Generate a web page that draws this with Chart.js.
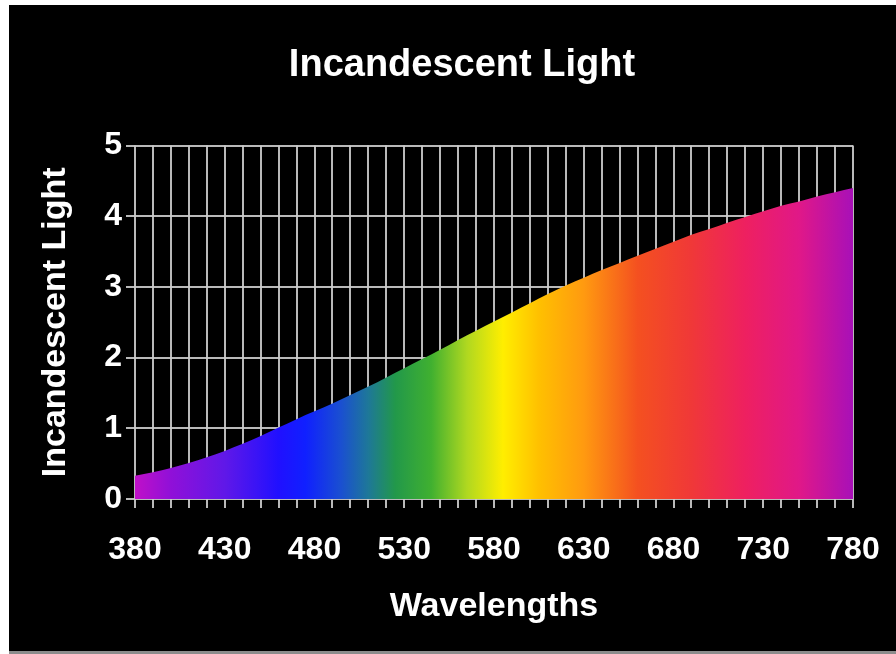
<!DOCTYPE html>
<html>
<head>
<meta charset="utf-8">
<script src="https://cdn.jsdelivr.net/npm/chart.js@4/dist/chart.umd.min.js"></script>
<style>
  html, body { margin: 0; padding: 0; background: #fff; }
  #frame { position: absolute; left: 0; top: 0; width: 896px; height: 654px; background: #fff; overflow: hidden; }
  #panel { position: absolute; left: 9px; top: 5px; width: 887px; height: 646px; background: #000; }
  #base { position: absolute; left: 9px; top: 651px; width: 887px; height: 3px; background: #8c8c8c; }
  canvas { display: block; }
</style>
</head>
<body>
<div id="frame">
  <div id="panel"><canvas id="c" width="887" height="646"></canvas></div>
  <div id="base"></div>
</div>
<script>
// ---- data ----
const wavelengths = [380,390,400,410,420,430,440,450,460,470,480,490,500,510,520,530,540,550,560,570,580,
                     590,600,610,620,630,640,650,660,670,680,690,700,710,720,730,740,750,760,770,780];
const intensity   = [0.33,0.38,0.44,0.51,0.59,0.68,0.78,0.89,1.01,1.13,1.24,1.35,1.47,1.59,1.72,1.85,1.98,2.11,2.25,2.38,2.51,
                     2.64,2.77,2.90,3.02,3.13,3.24,3.34,3.44,3.54,3.64,3.74,3.82,3.91,3.99,4.07,4.15,4.21,4.28,4.34,4.40];
const xTickLabels = [380,430,480,530,580,630,680,730,780];
const yTickLabels = [0,1,2,3,4,5];
const chartTitle = 'Incandescent Light';
const yTitle = 'Incandescent Light';
const xTitle = 'Wavelengths';

// ---- style: spectrum colours along the x axis ----
const spectrumStops = [
  [380,'#c010c8'],[400,'#9010d8'],[430,'#6018e8'],[460,'#2010ff'],[475,'#1020ff'],
  [495,'#1a50d0'],[510,'#1e7898'],[525,'#22984a'],[545,'#40b030'],[565,'#b0d820'],
  [585,'#ffee00'],[605,'#ffc000'],[630,'#ff9a10'],[660,'#f45020'],[690,'#f03838'],
  [720,'#ee2060'],[750,'#e01888'],[780,'#a810b8']
];

const FONT = "'Liberation Sans', Arial, Helvetica, sans-serif";
const gridColor = 'rgba(205,205,205,0.9)';

function spectrumFill(ctx) {
  const chart = ctx.chart;
  if (!chart.chartArea) return 'rgba(0,0,0,0)';
  const xs = chart.scales.x;
  const x0 = xs.getPixelForValue(wavelengths[0]);
  const x1 = xs.getPixelForValue(wavelengths[wavelengths.length - 1]);
  const g = chart.ctx.createLinearGradient(x0, 0, x1, 0);
  const span = wavelengths[wavelengths.length - 1] - wavelengths[0];
  spectrumStops.forEach(([nm, c]) => g.addColorStop((nm - wavelengths[0]) / span, c));
  return g;
}

// widen the title box to the full canvas so the title is centred like the original
const titleSpan = {
  id: 'titleSpan',
  afterLayout(chart) {
    if (chart.titleBlock) {
      chart.titleBlock.left = 19;
      chart.titleBlock.right = chart.width;
    }
  }
};

new Chart(document.getElementById('c'), {
  type: 'line',
  data: {
    datasets: [{
      data: wavelengths.map((w, i) => ({ x: w, y: intensity[i] })),
      fill: 'origin',
      backgroundColor: spectrumFill,
      borderWidth: 0,
      borderColor: 'rgba(0,0,0,0)',
      pointRadius: 0,
      cubicInterpolationMode: 'monotone'
    }]
  },
  plugins: [titleSpan],
  options: {
    responsive: false,
    animation: false,
    devicePixelRatio: 1,
    layout: { padding: { left: 19, right: 43, top: 0, bottom: 0 } },
    plugins: {
      legend: { display: false },
      tooltip: { enabled: false },
      title: {
        display: true,
        text: chartTitle,
        color: '#ffffff',
        font: { family: FONT, size: 38, weight: 'bold', lineHeight: 1.2 },
        padding: { top: 38, bottom: 57 }
      }
    },
    scales: {
      x: {
        type: 'linear',
        min: 380, max: 780,
        afterFit: s => { s.height = 152; s.paddingRight = 0; s.paddingLeft = 0; },
        afterBuildTicks: s => { s.ticks = wavelengths.map(v => ({ value: v })); },
        ticks: {
          autoSkip: false,
          maxRotation: 0,
          color: '#ffffff',
          padding: 23,
          font: { family: FONT, size: 32, weight: 'bold', lineHeight: 1.2 },
          callback: v => xTickLabels.includes(v) ? String(v) : ''
        },
        grid: { color: gridColor, lineWidth: 2, tickLength: 9, drawOnChartArea: true },
        border: { display: false },
        title: {
          display: true,
          text: xTitle,
          color: '#ffffff',
          font: { family: FONT, size: 34, weight: 'bold', lineHeight: 1.2 },
          padding: { top: 0, bottom: 24 }
        }
      },
      y: {
        min: 0, max: 5,
        afterFit: s => { s.width = 107; },
        afterBuildTicks: s => { s.ticks = yTickLabels.map(v => ({ value: v })); },
        ticks: {
          color: '#ffffff',
          padding: 4,
          font: { family: FONT, size: 32, weight: 'bold', lineHeight: 1.2 }
        },
        grid: { color: gridColor, lineWidth: 2, tickLength: 9 },
        border: { display: false },
        title: {
          display: true,
          text: yTitle,
          color: '#ffffff',
          font: { family: FONT, size: 34, weight: 'bold', lineHeight: 1.2 },
          padding: { top: 7, bottom: 0 }
        }
      }
    }
  }
});
</script>
</body>
</html>
